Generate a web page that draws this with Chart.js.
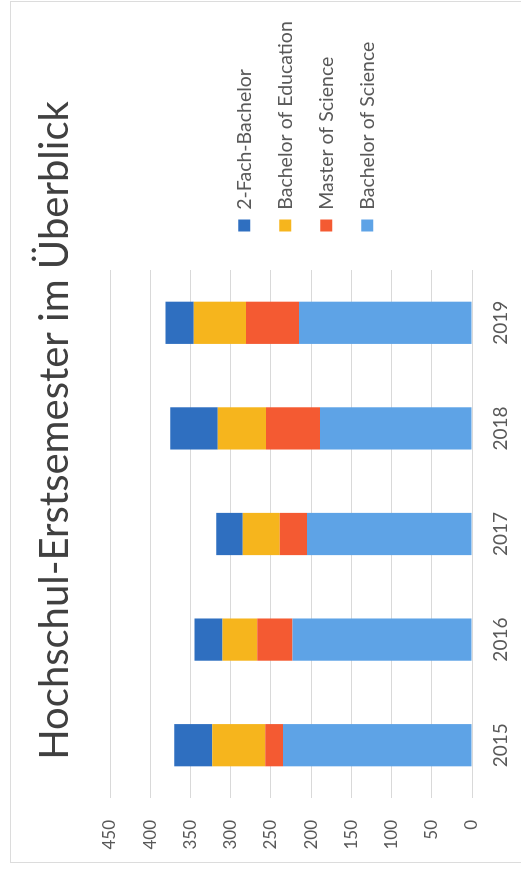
<!DOCTYPE html>
<html>
<head>
<meta charset="utf-8">
<script src="https://cdn.jsdelivr.net/npm/chart.js@4.4.1/dist/chart.umd.min.js"></script>
<style>
  html, body { margin: 0; padding: 0; background: #fff; }
  body { width: 521px; height: 875px; overflow: hidden; position: relative; }
  /* the chart is laid out landscape and turned a quarter to the left, like the scan */
  #frame {
    position: absolute; left: 0; top: 0;
    width: 875px; height: 521px;
    transform-origin: 0 0;
    transform: translate(0, 875px) rotate(-90deg);
  }
  #edge {
    position: absolute; left: 12px; top: 10px; right: 1px; bottom: -4px;
    border: 1px solid #dcdcdc;
  }
  #goldChart { position: absolute; left: 0; top: 0; }
</style>
</head>
<body>
<div id="frame">
  <div id="edge"></div>
  <canvas id="goldChart" width="875" height="521"></canvas>
</div>
<script>
// Hochschul-Erstsemester per year, stacked from the baseline up
const years = ['2015', '2016', '2017', '2018', '2019'];
const bachelorScience = [235, 223, 205, 189, 215];
const masterScience = [22, 44, 34, 67, 66];
const bachelorEducation = [66, 43, 46, 60, 65];
const zweiFachBachelor = [47, 35, 33, 59, 35];
const valueTicks = [0, 50, 100, 150, 200, 250, 300, 350, 400, 450];

const textColor = '#595959';

// give the legend a fixed column, then put legend and title where the scan has them
const placeBlocks = {
    id: 'placeBlocks',
    beforeLayout(chart) {
        const lg = chart.legend;
        if (lg && !lg._fixedFit) {
            const fit = lg.fit;
            lg.fit = function () {
                fit.call(this);
                this.width = 270;
            };
            lg._fixedFit = true;
        }
    },
    afterLayout(chart) {
        const lg = chart.legend;
        lg.left = 622;
        lg.right = 875;
        lg.top = 213;
        const tb = chart.titleBlock;
        tb.left = 14;
        tb.right = 875;
    }
};

function makeChart() {
    const ctx = document.getElementById('goldChart');

    new Chart(ctx, {
        type: 'bar',
        data: {
            labels: years,
            datasets: [
                { label: 'Bachelor of Science', data: bachelorScience, backgroundColor: '#5ea3e6' },
                { label: 'Master of Science', data: masterScience, backgroundColor: '#f45a32' },
                { label: 'Bachelor of Education', data: bachelorEducation, backgroundColor: '#f6b51d' },
                { label: '2-Fach-Bachelor', data: zweiFachBachelor, backgroundColor: '#2f6fc0' }
            ]
        },
        options: {
            responsive: false,
            animation: false,
            devicePixelRatio: 1,
            layout: { padding: { left: 12, top: 10, right: 0, bottom: 9 } },
            datasets: {
                bar: { barPercentage: 0.4, categoryPercentage: 1.0, borderWidth: 0 }
            },
            plugins: {
                title: {
                    display: true,
                    text: 'Hochschul-Erstsemester im Überblick',
                    color: '#404040',
                    font: { family: 'Lato', size: 40, weight: 'normal' },
                    padding: { top: 21, bottom: 31 }
                },
                legend: {
                    position: 'right',
                    align: 'start',
                    reverse: true,
                    labels: {
                        color: textColor,
                        font: { family: 'Lato', size: 19.5 },
                        boxWidth: 12,
                        boxHeight: 12,
                        padding: 21.5
                    }
                },
                tooltip: { enabled: false }
            },
            scales: {
                x: {
                    stacked: true,
                    afterFit: (axis) => { axis.height = 40; },
                    grid: { display: false, drawTicks: false },
                    border: { display: false },
                    ticks: {
                        color: textColor,
                        font: { family: 'Lato', size: 19 },
                        padding: 17
                    }
                },
                y: {
                    stacked: true,
                    min: 0,
                    max: 450,
                    afterBuildTicks: (axis) => {
                        axis.ticks = valueTicks.map(v => ({ value: v }));
                    },
                    afterFit: (axis) => { axis.width = 65; },
                    grid: { color: '#d9d9d9', lineWidth: 1, drawTicks: false },
                    border: { display: false },
                    ticks: {
                        color: textColor,
                        font: { family: 'Lato', size: 17 },
                        padding: 22
                    }
                }
            }
        },
        plugins: [placeBlocks]
    });
}

makeChart();
</script>
</body>
</html>
